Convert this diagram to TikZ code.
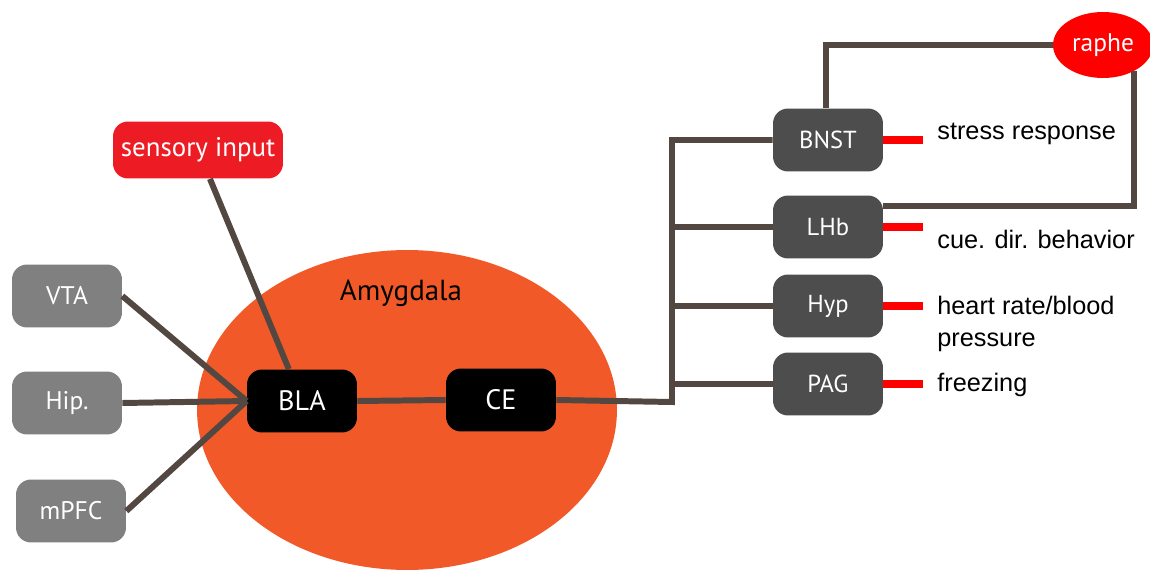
\documentclass[tikz,border=0pt]{standalone}
\usepackage{fontspec}
\setmainfont{Liberation Sans}
\newfontfamily\boxfont{PT Sans}
\usepackage{xcolor}
\usetikzlibrary{shapes.geometric}
\definecolor{amyorange}{HTML}{F15A28}
\definecolor{senseRed}{HTML}{ED1C24}
\definecolor{wireBrown}{HTML}{534741}
\definecolor{inGray}{HTML}{808080}
\definecolor{outGray}{HTML}{4D4D4D}

\begin{document}
\begin{tikzpicture}[x=0.02cm, y=-0.02cm,
    wire/.style={line width=3.4pt, draw=wireBrown},
    outlet/.style={line width=4pt, draw=red},
    region/.style={rounded corners=0.3cm, minimum width=2.2cm, minimum height=1.26cm,
        inner sep=0pt, text=white, font=\boxfont\fontsize{14}{16}\selectfont},
    inbox/.style={region, fill=inGray, font=\boxfont\fontsize{14.5}{16}\selectfont},
    corebox/.style={region, fill=black, font=\boxfont\fontsize{16}{18}\selectfont},
    outbox/.style={region, fill=outGray},
    effect/.style={anchor=west, inner sep=0pt, font=\fontsize{14.4}{18}\selectfont}]

    \useasboundingbox (0,0) rectangle (1150,571);
    \clip (0,0) rectangle (1150,571);

    % --- Amygdala ---
    \fill[amyorange] (407,410) ellipse [x radius=4.2cm, y radius=3.2cm];
    \node[font=\boxfont\fontsize{16.5}{18}\selectfont] (amylabel) at (401,293) {Amygdala};

    % --- Inputs ---
    \node[region, fill=senseRed, minimum width=3.4cm, minimum height=1.14cm,
        font=\boxfont\fontsize{15.3}{17}\selectfont] (sensory) at (198,150) {sensory input};
    \node[inbox] (VTA) at (67,296) {VTA};
    \node[inbox] (Hip) at (67,403) {Hip.};
    \node[inbox] (mPFC) at (71,511) {mPFC};

    % --- BLA and CE ---
    \node[corebox] (BLA) at (302,401) {BLA};
    \node[corebox] (CE) at (501,400) {CE};

    % --- Outputs ---
    \node[outbox] (BNST) at (828,140) {BNST};
    \node[outbox] (LHb) at (828,227) {LHb};
    \node[outbox] (Hyp) at (828,306) {Hyp};
    \node[outbox] (PAG) at (828,384) {PAG};
    \node[ellipse, fill=red, text=white, minimum width=2cm, minimum height=1.32cm, inner sep=0pt,
        font=\boxfont\fontsize{14.5}{16}\selectfont] (raphe) at (1103,45) {raphe};

    % --- Connections into BLA ---
    \draw[wire] (sensory) -- (BLA);
    \draw[wire] (VTA.east) -- (BLA.west);
    \draw[wire] (Hip.east) -- (BLA.west);
    \draw[wire] (mPFC.east) -- (BLA.west);
    \draw[wire] (BLA.east) -- (CE.west);

    % --- CE out to the targets ---
    \coordinate (trunk) at (672,402);
    \draw[wire] (CE.east) -- (trunk) |- (BNST.west);
    \foreach \tgt in {LHb, Hyp, PAG}
        \draw[wire] (trunk |- \tgt.west) -- (\tgt.west);

    % --- loop through raphe ---
    \draw[wire] ([xshift=-0.04cm]BNST.north) |- (raphe.west);
    \draw[wire] (raphe.-40) |- ([yshift=-0.22cm]LHb.north east);

    % --- Responses ---
    \draw[outlet] (BNST.east) -- ++(40,0);
    \node[effect] (stress) at (937,134) {stress response};
    \draw[outlet] (LHb.east) -- ++(40,0);
    \node[effect] (cue) at (937,239) {cue. dir. behavior};
    \draw[outlet] (Hyp.east) -- ++(40,0);
    \node[effect, anchor=north west, align=left] (heart) at (937,296) {heart rate/blood\\pressure};
    \draw[outlet] (PAG.east) -- ++(40,0);
    \node[effect] (freeze) at (937,385) {freezing};

\end{tikzpicture}
\end{document}
